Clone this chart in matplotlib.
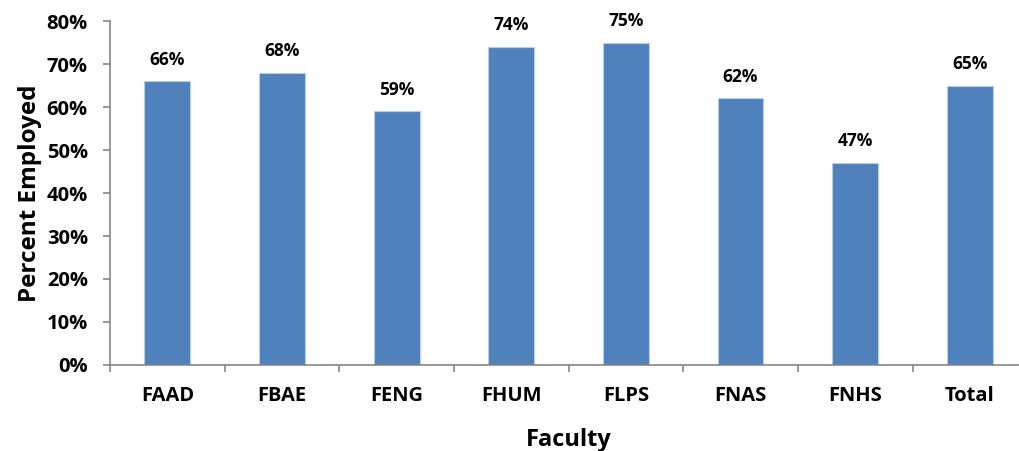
import matplotlib
matplotlib.use("Agg")
import numpy as np
import matplotlib.pyplot as plt
from matplotlib.ticker import PercentFormatter, FixedLocator

# 数据
faculties = ["FAAD", "FBAE", "FENG", "FHUM", "FLPS", "FNAS", "FNHS", "Total"]
employed_pct = [66, 68, 59, 74, 75, 62, 47, 65]

plt.rcParams['font.family'] = ['Open Sans', 'DejaVu Sans']
plt.rcParams['font.weight'] = 'bold'

fig = plt.figure(figsize=(10.19, 4.51), dpi=100)
ax = fig.add_axes([0.108, 0.1907, 0.9, 0.7627])

x = np.arange(len(faculties))
bars = ax.bar(x, employed_pct, width=0.4, color='#4F81BD',
              edgecolor='#B9CDE5', linewidth=0.8, zorder=2)

for xi, v in zip(x, employed_pct):
    ax.annotate(f"{v}%", (xi, v), xytext=(0, 9), textcoords='offset points',
                ha='center', va='bottom', fontsize=12.5, fontweight='bold')

ax.set_xlim(-0.5, len(faculties) - 0.5)
ax.set_ylim(0, 80)
ax.set_yticks(np.arange(0, 81, 10))
ax.yaxis.set_major_formatter(PercentFormatter(decimals=0))

ax.set_xticks(x)
ax.set_xticklabels(faculties)
ax.xaxis.set_minor_locator(FixedLocator(np.arange(len(faculties)) - 0.5))

for s in ['top', 'right']:
    ax.spines[s].set_visible(False)
for s in ['left', 'bottom']:
    ax.spines[s].set_color('#868686')
    ax.spines[s].set_linewidth(1.2)

ax.tick_params(axis='y', direction='out', length=5, width=1.2, color='#868686',
               pad=11, labelsize=14.5)
ax.tick_params(axis='x', which='major', length=0, pad=15, labelsize=14.5)
ax.tick_params(axis='x', which='minor', direction='out', length=5, width=1.2,
               color='#868686')
for lbl in ax.get_xticklabels() + ax.get_yticklabels():
    lbl.set_fontweight('bold')

ax.set_xlabel("Faculty", fontsize=17, fontweight='bold', labelpad=16)
ax.set_ylabel("Percent Employed", fontsize=17.5, fontweight='bold', labelpad=3)

plt.savefig("out.png", dpi=100)
